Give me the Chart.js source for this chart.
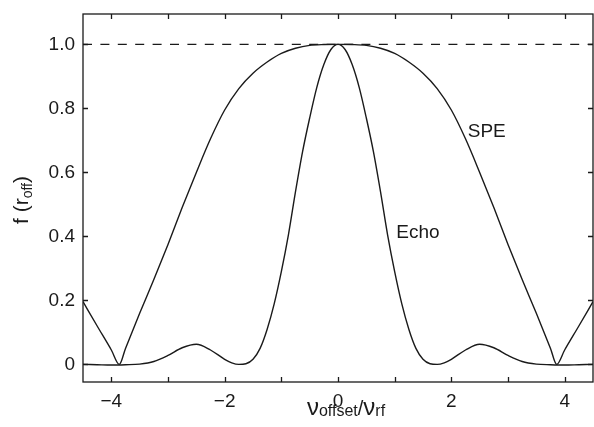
<!DOCTYPE html>
<html>
<head>
<meta charset="utf-8">
<script src="https://cdn.jsdelivr.net/npm/chart.js@4.4.1/dist/chart.umd.min.js"></script>
<style>
  html, body { margin: 0; padding: 0; background: #fff; }
  canvas { display: block; }
</style>
</head>
<body>
<canvas id="chart" width="594" height="427"></canvas>
<script>
const FONT = "'Liberation Sans', Arial, Helvetica, sans-serif";
const INK = "#1a1a1a";

// values
const xTicks = [-4, -3, -2, -1, 0, 1, 2, 3, 4];
const yTicks = [0, 0.2, 0.4, 0.6, 0.8, 1.0];

const echoX = [-4.5, -4.25, -4, -3.75, -3.5, -3.25, -3, -2.75, -2.5, -2.25, -2, -1.875, -1.75, -1.625,
  -1.5, -1.375, -1.25, -1.125, -1, -0.875, -0.75, -0.625, -0.5, -0.375, -0.25, -0.125, 0,
  0.125, 0.25, 0.375, 0.5, 0.625, 0.75, 0.875, 1, 1.125, 1.25, 1.375, 1.5,
  1.625, 1.75, 1.875, 2, 2.25, 2.5, 2.75, 3, 3.25, 3.5, 3.75, 4, 4.25, 4.5];
const echoY = [0.0, -0.001, -0.002, -0.001, 0.001, 0.009, 0.028, 0.052, 0.063, 0.045, 0.016, 0.005, 0.0, 0.002,
  0.016, 0.05, 0.11, 0.19, 0.29, 0.405, 0.54, 0.665, 0.77, 0.865, 0.937, 0.984, 1.0,
  0.984, 0.937, 0.865, 0.77, 0.665, 0.54, 0.405, 0.29, 0.19, 0.11, 0.05, 0.016,
  0.002, 0.0, 0.005, 0.016, 0.045, 0.063, 0.052, 0.028, 0.009, 0.001, -0.001, -0.002, -0.001, 0.0];

const speX = [-4.5, -4.25, -4, -3.86, -3.75, -3.5, -3.25, -3, -2.75, -2.5, -2.25, -2, -1.75, -1.5,
  -1.25, -1, -0.75, -0.5, -0.25, 0, 0.25, 0.5, 0.75, 1, 1.25,
  1.5, 1.75, 2, 2.25, 2.5, 2.75, 3, 3.25, 3.5, 3.75, 3.86, 4, 4.25, 4.5];
const speY = [0.196, 0.12, 0.045, 0.0, 0.05, 0.16, 0.265, 0.375, 0.49, 0.6, 0.705, 0.795, 0.862, 0.91,
  0.945, 0.972, 0.988, 0.997, 0.9995, 1.0, 0.9995, 0.997, 0.988, 0.972, 0.945,
  0.91, 0.862, 0.795, 0.705, 0.6, 0.49, 0.375, 0.265, 0.16, 0.05, 0.0, 0.045, 0.12, 0.196];

const refLineX = [-4.5, 4.5];
const refLineY = [1.0, 1.0];

const curveLabels = [
  { text: "SPE", x: 2.29, y: 0.727 },
  { text: "Echo", x: 1.03, y: 0.41 }
];

const toPoints = (xs, ys) => xs.map((x, i) => ({ x, y: ys[i] }));

const minus = v => String(v).replace("-", "\u2212");

// inward ticks on all four sides, curve labels and axis titles
const decorations = {
  id: "decorations",
  afterDraw(chart) {
    const { ctx, chartArea: a, scales } = chart;
    const xs = scales.x, ys = scales.y;
    const len = 5;
    ctx.save();
    ctx.strokeStyle = INK;
    ctx.lineWidth = 1.3;
    ctx.beginPath();
    xTicks.forEach(v => {
      const px = Math.round(xs.getPixelForValue(v)) + 0.5;
      ctx.moveTo(px, a.bottom); ctx.lineTo(px, a.bottom - len);
      ctx.moveTo(px, a.top); ctx.lineTo(px, a.top + len);
    });
    yTicks.forEach(v => {
      const py = Math.round(ys.getPixelForValue(v)) + 0.5;
      ctx.moveTo(a.left, py); ctx.lineTo(a.left + len, py);
      ctx.moveTo(a.right, py); ctx.lineTo(a.right - len, py);
    });
    ctx.stroke();
    ctx.strokeRect(a.left, a.top, a.right - a.left, a.bottom - a.top);

    ctx.fillStyle = INK;
    ctx.font = "19px " + FONT;
    ctx.textBaseline = "middle";
    ctx.textAlign = "left";
    curveLabels.forEach(l => {
      ctx.fillText(l.text, xs.getPixelForValue(l.x), ys.getPixelForValue(l.y));
    });

    // x title: v_offset / v_rf
    const parts = [
      { t: "\u03bd", f: "24px", dy: 0 },
      { t: "offset", f: "16px", dy: 1 },
      { t: "/", f: "20px", dy: 0 },
      { t: "\u03bd", f: "24px", dy: 0 },
      { t: "rf", f: "16px", dy: 1 }
    ];
    ctx.textBaseline = "alphabetic";
    let total = 0;
    parts.forEach(p => { ctx.font = p.f + " " + FONT; p.w = ctx.measureText(p.t).width; total += p.w; });
    let cx = 346 - total / 2;
    parts.forEach(p => {
      ctx.font = p.f + " " + FONT;
      ctx.fillText(p.t, cx, 415 + p.dy);
      cx += p.w;
    });

    // y title: f (r_off)
    const yparts = [
      { t: "f (r", f: "21px", dy: 0 },
      { t: "off", f: "14px", dy: 4 },
      { t: ")", f: "21px", dy: 0 }
    ];
    ctx.translate(28, 200);
    ctx.rotate(-Math.PI / 2);
    total = 0;
    yparts.forEach(p => { ctx.font = p.f + " " + FONT; p.w = ctx.measureText(p.t).width; total += p.w; });
    cx = -total / 2;
    yparts.forEach(p => {
      ctx.font = p.f + " " + FONT;
      ctx.fillText(p.t, cx, p.dy);
      cx += p.w;
    });
    ctx.restore();
  }
};

new Chart(document.getElementById("chart"), {
  type: "line",
  data: {
    datasets: [
      {
        label: "Echo",
        data: toPoints(echoX, echoY),
        borderColor: INK,
        borderWidth: 1.4,
        pointRadius: 0,
        cubicInterpolationMode: "monotone",
        fill: false
      },
      {
        label: "SPE",
        data: toPoints(speX, speY),
        borderColor: INK,
        borderWidth: 1.4,
        pointRadius: 0,
        cubicInterpolationMode: "monotone",
        fill: false
      },
      {
        label: "ref",
        data: toPoints(refLineX, refLineY),
        borderColor: INK,
        borderWidth: 1.3,
        borderDash: [9, 8.4],
        pointRadius: 0,
        fill: false
      }
    ]
  },
  options: {
    responsive: false,
    devicePixelRatio: 1,
    animation: false,
    layout: { padding: { top: 14, right: 1, left: 0, bottom: 0 } },
    plugins: {
      legend: { display: false },
      tooltip: { enabled: false }
    },
    scales: {
      x: {
        type: "linear",
        min: -4.5,
        max: 4.5,
        afterBuildTicks: s => { s.ticks = xTicks.map(v => ({ value: v })); },
        afterFit: s => {
          s.height = 45;
          s.paddingLeft = 0; s.paddingRight = 0;
        },
        grid: { display: false, drawTicks: false },
        border: { display: false },
        ticks: {
          color: INK,
          padding: 8,
          maxRotation: 0,
          autoSkip: false,
          font: { family: FONT, size: 19 },
          callback: v => (v % 2 === 0 ? minus(v) : "")
        }
      },
      y: {
        type: "linear",
        min: -0.055,
        max: 1.095,
        afterBuildTicks: s => { s.ticks = yTicks.map(v => ({ value: v })); },
        afterFit: s => {
          s.width = 83;
          s.paddingTop = 0; s.paddingBottom = 0;
        },
        grid: { display: false, drawTicks: false },
        border: { display: false },
        ticks: {
          color: INK,
          padding: 8,
          autoSkip: false,
          font: { family: FONT, size: 19 },
          callback: v => (v === 0 ? "0" : v.toFixed(1))
        }
      }
    }
  },
  plugins: [decorations]
});
</script>
</body>
</html>
